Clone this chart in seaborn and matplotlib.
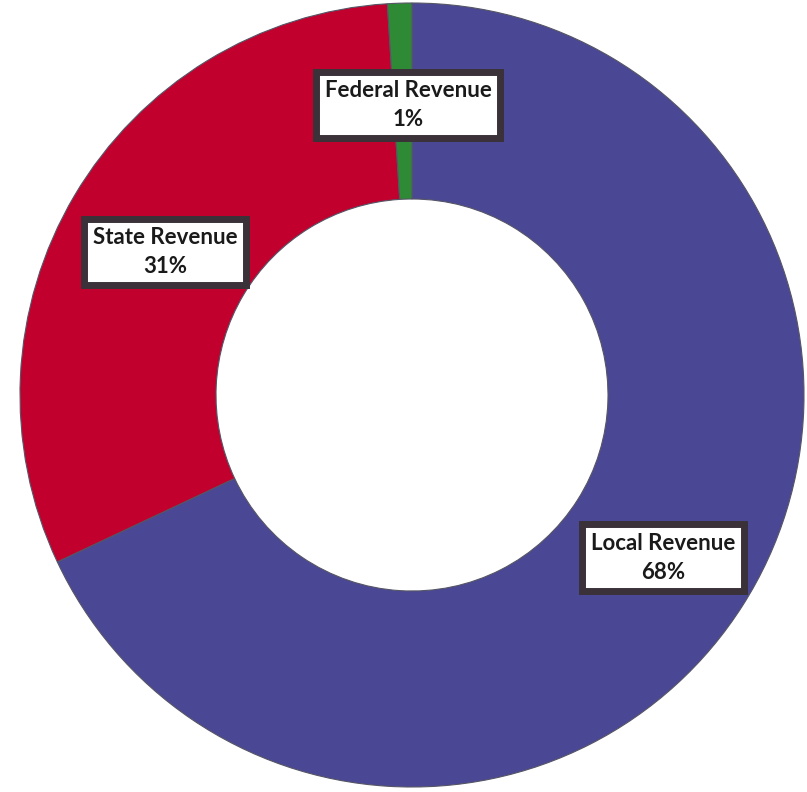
import matplotlib
matplotlib.use("Agg")
import matplotlib.pyplot as plt
import seaborn as sns

categories = ["Local Revenue", "State Revenue", "Federal Revenue"]
values = [68, 31, 1]
colors = ["#4A4795", "#C2002E", "#2F8A35"]
label_pos = [(0.64, -0.415), (-0.63, 0.365), (-0.01, 0.74)]

sns.set_theme(style="white")
plt.rcParams['font.family'] = ['Lato', 'DejaVu Sans']

fig = plt.figure(figsize=(8.07, 7.92), dpi=100)
ax = fig.add_axes([(412 - 392) / 807, (792 - 395 - 392) / 792, 784 / 807, 784 / 792])
wedges, _ = ax.pie(values, colors=colors, startangle=90, counterclock=False,
                   radius=1.0, wedgeprops=dict(width=0.5, edgecolor="#555566", linewidth=0.8))
ax.set_xlim(-1, 1)
ax.set_ylim(-1, 1)
ax.set_aspect("equal")
ax.axis("off")

for cat, val, (x, y) in zip(categories, values, label_pos):
    ax.text(x, y, f"{cat}\n{val}%", ha="center", va="center", fontsize=16,
            fontweight="bold", color="#1a1a1a", linespacing=1.45,
            bbox=dict(boxstyle="square,pad=0.38", facecolor="white",
                      edgecolor="#3a3238", linewidth=5))

fig.savefig("out.png", dpi=100)
